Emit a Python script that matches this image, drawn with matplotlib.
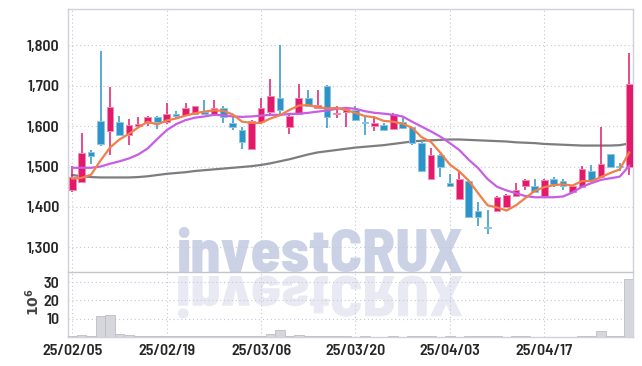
import matplotlib
matplotlib.use("Agg")
import matplotlib.pyplot as plt
import numpy as np
from matplotlib.ticker import StrMethodFormatter, FixedLocator
from matplotlib.textpath import TextPath
from matplotlib.font_manager import FontProperties
from matplotlib.patches import PathPatch
from matplotlib.transforms import Affine2D

# daily candles, 25/02/05 .. 25/04/30 (price in KRW)
opens = [1441, 1463, 1536, 1613, 1587, 1611, 1577, 1601, 1607, 1622,
         1610, 1630, 1628, 1630, 1636, 1628, 1645, 1609, 1591, 1543,
         1611, 1634, 1669, 1597, 1630, 1669, 1644, 1700, 1631, 1636,
         1640, 1611, 1601, 1603, 1593, 1610, 1597, 1559, 1470, 1529,
         1460, 1420, 1465, 1390, 1351, 1391, 1399, 1426, 1453, 1452,
         1426, 1470, 1465, 1438, 1449, 1488, 1474, 1531, 1502, 1500]
highs = [1502, 1583, 1540, 1785, 1698, 1625, 1617, 1622, 1626, 1624,
         1657, 1637, 1658, 1651, 1665, 1665, 1650, 1622, 1599, 1616,
         1669, 1716, 1801, 1632, 1704, 1690, 1690, 1701, 1649, 1645,
         1649, 1628, 1625, 1608, 1633, 1625, 1598, 1560, 1547, 1530,
         1481, 1488, 1467, 1413, 1393, 1426, 1431, 1460, 1468, 1469,
         1469, 1475, 1470, 1452, 1502, 1504, 1598, 1532, 1508, 1781]
lows = [1438, 1460, 1507, 1550, 1529, 1575, 1554, 1595, 1600, 1593,
        1605, 1617, 1625, 1628, 1628, 1626, 1609, 1591, 1543, 1542,
        1609, 1628, 1624, 1580, 1628, 1648, 1643, 1595, 1621, 1598,
        1614, 1579, 1588, 1589, 1592, 1594, 1554, 1490, 1468, 1475,
        1449, 1418, 1375, 1354, 1333, 1388, 1397, 1424, 1441, 1436,
        1424, 1449, 1442, 1437, 1447, 1465, 1472, 1499, 1488, 1479]
closes = [1473, 1533, 1525, 1555, 1647, 1577, 1602, 1606, 1622, 1611,
          1629, 1625, 1645, 1650, 1630, 1645, 1622, 1598, 1562, 1614,
          1645, 1675, 1639, 1625, 1669, 1650, 1653, 1622, 1633, 1643,
          1616, 1609, 1607, 1591, 1630, 1595, 1559, 1490, 1529, 1498,
          1451, 1470, 1376, 1376, 1347, 1424, 1430, 1442, 1467, 1438,
          1467, 1457, 1451, 1451, 1494, 1467, 1507, 1500, 1498, 1705]
# volume, millions of shares
volume = [0.5, 1.0, 0.3, 11.3, 12.3, 1.8, 0.9, 0.4, 0.3, 0.3,
          0.4, 0.3, 0.3, 0.3, 0.5, 0.4, 0.4, 0.3, 0.4, 0.4,
          0.6, 1.8, 4.0, 0.5, 1.3, 0.5, 0.4, 0.6, 0.3, 0.3,
          0.2, 0.5, 0.2, 0.2, 0.5, 0.2, 0.3, 0.3, 0.3, 0.2,
          0.3, 0.2, 0.4, 0.5, 0.5, 0.4, 0.2, 0.4, 0.3, 0.2,
          0.2, 0.2, 0.2, 0.2, 0.3, 0.3, 3.1, 0.6, 0.3, 32.0]
# moving average lines as drawn on the chart
ma_short = [1470, 1472, 1480, 1515, 1547, 1567, 1581, 1597, 1611, 1604,
            1614, 1619, 1626, 1632, 1636, 1639, 1638, 1629, 1611, 1608,
            1608, 1619, 1627, 1640, 1651, 1652, 1647, 1644, 1645, 1640,
            1633, 1625, 1622, 1613, 1611, 1606, 1596, 1573, 1561, 1534,
            1505, 1488, 1465, 1434, 1404, 1399, 1391, 1404, 1422, 1440,
            1449, 1454, 1456, 1453, 1464, 1464, 1474, 1484, 1493, 1535]
ma_mid = [1497, 1497, 1497, 1500, 1507, 1513, 1520, 1530, 1545, 1568,
          1590, 1605, 1615, 1621, 1624, 1628, 1627, 1624, 1623, 1624,
          1626, 1628, 1628, 1630, 1631, 1633, 1636, 1639, 1643, 1645,
          1643, 1637, 1633, 1631, 1628, 1624, 1611, 1599, 1587, 1574,
          1558, 1541, 1517, 1496, 1469, 1450, 1441, 1434, 1427, 1424,
          1424, 1424, 1426, 1436, 1450, 1459, 1467, 1471, 1475, 1502]
ma_long = [1479, 1476, 1474, 1473, 1473, 1473, 1473, 1474, 1476, 1479,
           1482, 1484, 1486, 1489, 1491, 1493, 1495, 1497, 1499, 1501,
           1504, 1508, 1513, 1518, 1524, 1530, 1535, 1538, 1541, 1544,
           1547, 1549, 1551, 1553, 1556, 1559, 1562, 1564, 1565, 1566,
           1567, 1567, 1566, 1565, 1564, 1563, 1562, 1560, 1559, 1558,
           1556, 1555, 1554, 1553, 1552, 1552, 1552, 1552, 1553, 1557]
tick_idx = [0, 10, 20, 30, 40, 50]
tick_labels = ["25/02/05", "25/02/19", "25/03/06", "25/03/20", "25/04/03", "25/04/17"]

UP = "#e31a6b"
UP_EDGE = "#f08ab0"
DOWN = "#2b95c9"
DOWN_EDGE = "#8cc4e2"
GRID = "#c4c8d8"
FONT = "Barlow Semi Condensed"
W, H = 642, 366


def add_watermark(fig):
  word = "investCRUX"
  prop = FontProperties(family=[FONT, "DejaVu Sans"], weight=800)
  x0, x1, base = 178, 462, 272
  # size the word so it spans x0..x1
  probe = TextPath((0, 0), word, size=100, prop=prop).get_extents()
  px = 100 * (x1 - x0) / probe.width
  start = x0 - probe.x0 * px / 100
  fig.text(start / W, (H - base) / H, word, fontproperties=prop,
           fontsize=px * 72 / 100, color="#ccd2e6", ha="left",
           va="baseline", zorder=-2)
  # faint mirrored reflection under the baseline
  path = TextPath((0, 0), word, size=px, prop=prop)
  t = Affine2D().scale(1, -0.95).translate(start, H - base - 4)
  fig.patches.append(PathPatch(path, transform=t, facecolor="#e8e9f2",
                               edgecolor="none", zorder=-2))


def style_axis(ax):
  ax.set_facecolor("none")
  ax.grid(True, linestyle=(0, (1, 2.5)), color=GRID, linewidth=0.8)
  ax.set_axisbelow(True)
  for side in ["left", "right", "top", "bottom"]:
    ax.spines[side].set_color("#cfd1dc")
    ax.spines[side].set_linewidth(1.0)
  ax.tick_params(length=0, pad=6, labelsize=11.5, labelcolor="#262626")


def main():
  plt.rcParams["font.family"] = [FONT, "DejaVu Sans"]
  plt.rcParams["font.weight"] = 600
  fig = plt.figure(figsize=(W / 100, H / 100), dpi=100, facecolor="white")
  left, right = 68, 632.5
  ax = fig.add_axes([left / W, (H - 272) / H, (right - left) / W, 263 / H])
  axv = fig.add_axes([left / W, (H - 337) / H, (right - left) / W, 65 / H], sharex=ax)

  x = np.arange(len(closes))
  o = np.array(opens)
  c = np.array(closes)
  up = c >= o
  colors = np.where(up, UP, DOWN)
  edges = np.where(up, UP_EDGE, DOWN_EDGE)
  bottoms = np.minimum(o, c)
  heights = np.maximum(np.abs(c - o), 2)

  ax.vlines(x, lows, highs, colors=colors, linewidth=1.1, zorder=3)
  ax.bar(x, heights, bottom=bottoms, width=0.7, color=colors,
         edgecolor=edges, linewidth=0.7, zorder=4)

  ax.plot(x, ma_long, color="#7d7d80", linewidth=1.6, zorder=2)
  ax.plot(x, ma_mid, color="#c95de6", linewidth=1.6, zorder=5)
  ax.plot(x, ma_short, color="#ef8049", linewidth=1.6, zorder=5)

  axv.bar(x, volume, width=1.0, color="#d6d6dd", edgecolor="#bdbdc6",
          linewidth=0.6, zorder=3)

  style_axis(ax)
  style_axis(axv)
  ax.set_xlim(-0.45, 59.35)
  ax.set_ylim(1239, 1890)
  ax.yaxis.set_major_locator(FixedLocator([1300, 1400, 1500, 1600, 1700, 1800]))
  ax.yaxis.set_major_formatter(StrMethodFormatter("{x:,.0f}"))
  ax.spines["bottom"].set_color("#c3c4cc")
  ax.tick_params(axis="x", labelbottom=False)

  axv.set_ylim(0, 35.6)
  axv.yaxis.set_major_locator(FixedLocator([10, 20, 30]))
  axv.set_xticks(tick_idx)
  axv.set_xticklabels(tick_labels)
  axv.tick_params(axis="x", pad=5)
  axv.spines["top"].set_visible(False)

  fig.text(33 / W, 1 - 302 / H, r"$10^6$", rotation=90, ha="center",
           va="center", fontsize=10, color="#444444")

  add_watermark(fig)
  fig.savefig("out.png", dpi=100, facecolor="white")


if __name__ == "__main__":
  main()
